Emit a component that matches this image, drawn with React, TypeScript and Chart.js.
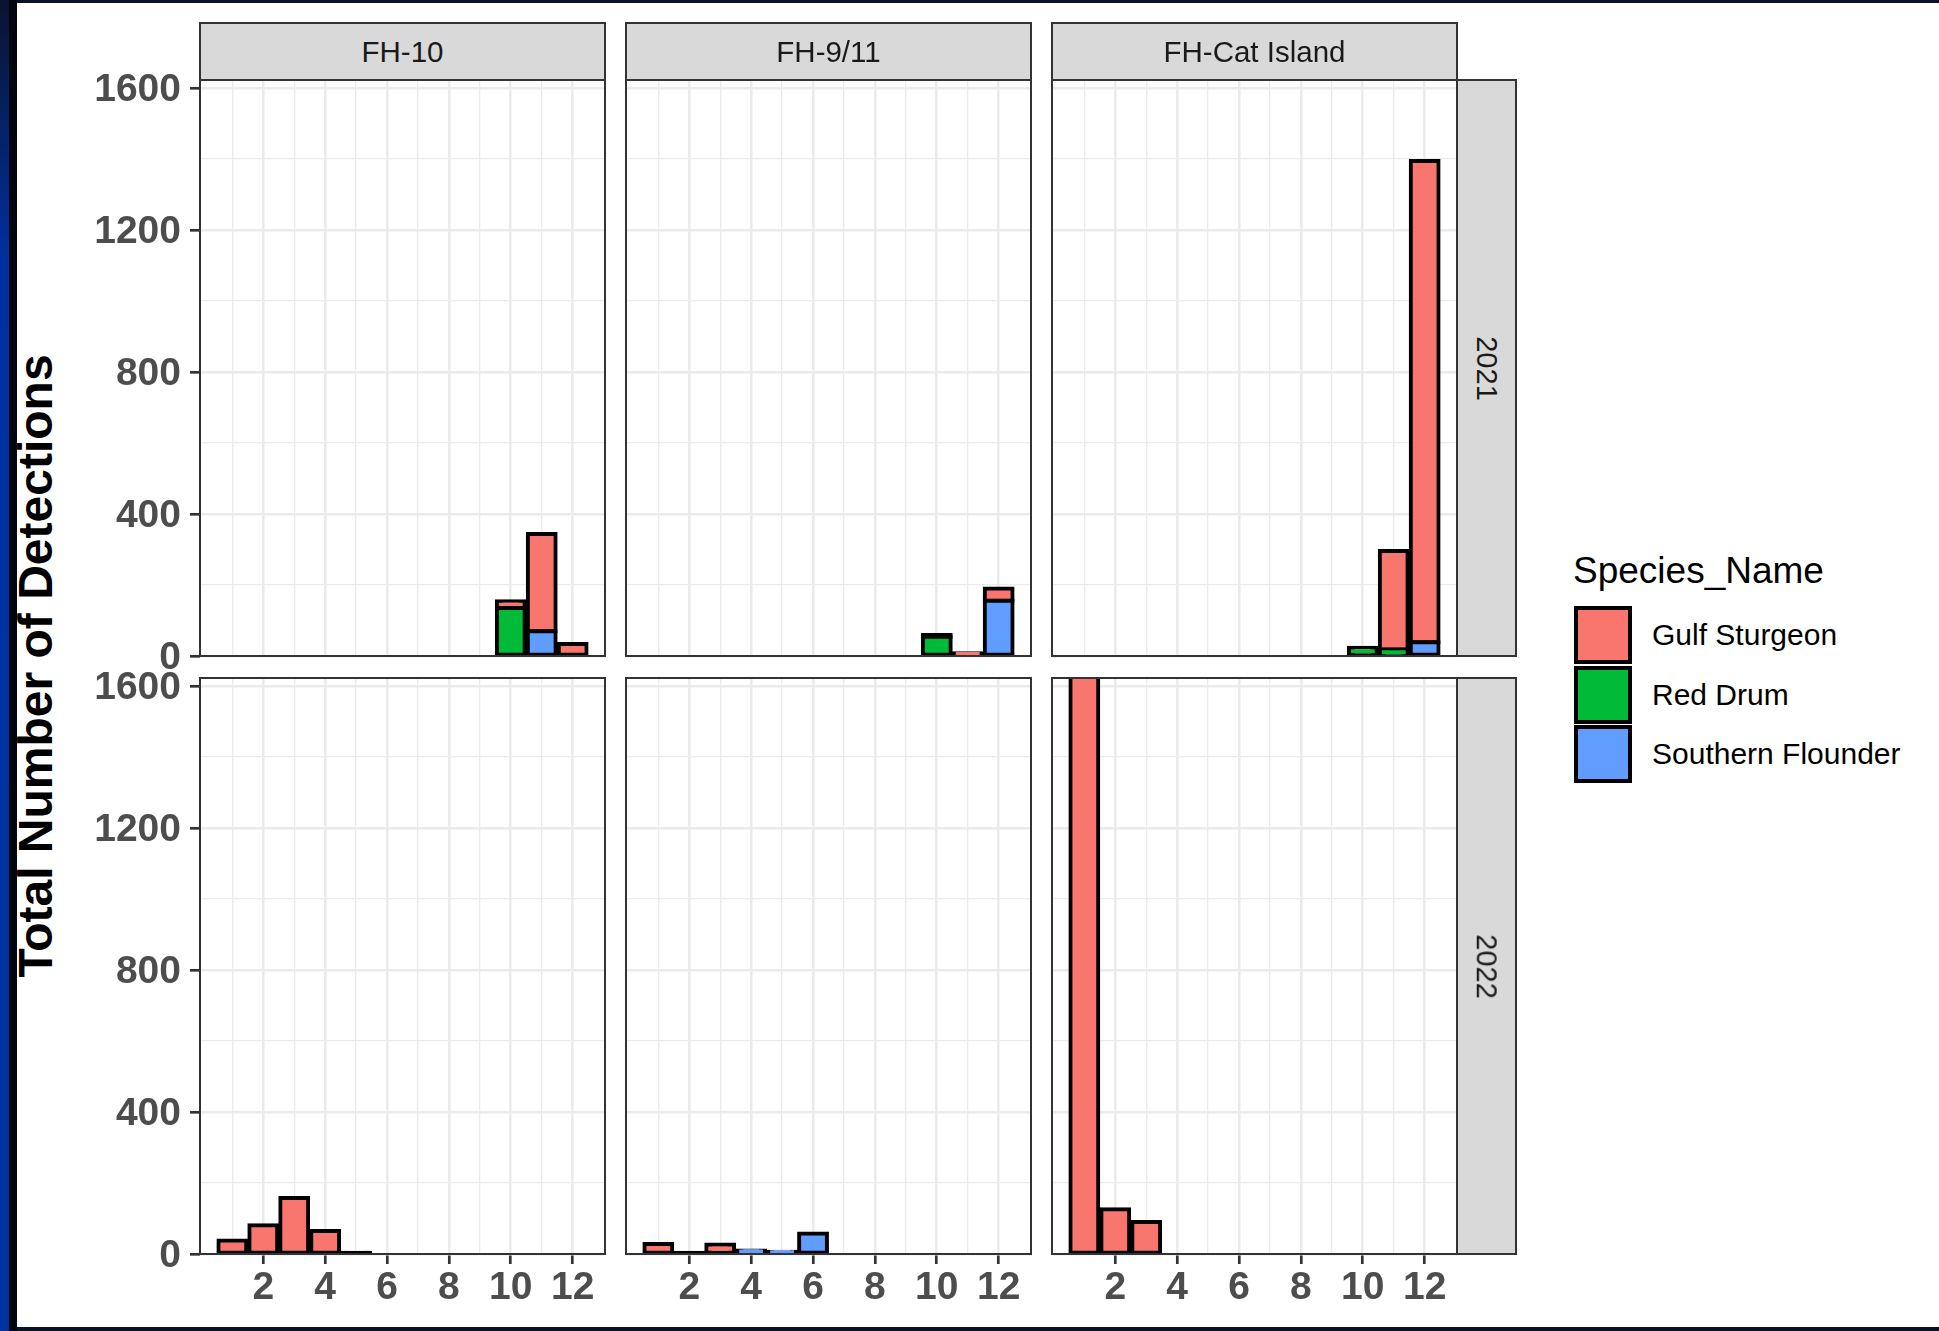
import React, { useEffect, useRef } from "react";
import { Chart, registerables } from "chart.js";

Chart.register(...registerables);

// ---------------- DATA ----------------
const months = [1, 2, 3, 4, 5, 6, 7, 8, 9, 10, 11, 12];
const speciesNames = ["Gulf Sturgeon", "Red Drum", "Southern Flounder"];
const speciesColors = ["#F8766D", "#00BA38", "#619CFF"];
const siteNames = ["FH-10", "FH-9/11", "FH-Cat Island"];
const yearNames = ["2021", "2022"];
const xTickLabels = [2, 4, 6, 8, 10, 12];
const yTickLabels = [0, 400, 800, 1200, 1600];
const yGridValues = [0, 200, 400, 600, 800, 1000, 1200, 1400, 1600];

// 2021
const fh10_2021_gulf = [null, null, null, null, null, null, null, null, null, 19, 274, 34];
const fh10_2021_redDrum = [null, null, null, null, null, null, null, null, null, 135, null, null];
const fh10_2021_flounder = [null, null, null, null, null, null, null, null, null, null, 70, null];

const fh911_2021_gulf = [null, null, null, null, null, null, null, null, null, 5, 8, 34];
const fh911_2021_redDrum = [null, null, null, null, null, null, null, null, null, 54, null, null];
const fh911_2021_flounder = [null, null, null, null, null, null, null, null, null, null, null, 156];

const cat_2021_gulf = [null, null, null, null, null, null, null, null, null, null, 278, 1356];
const cat_2021_redDrum = [null, null, null, null, null, null, null, null, null, 23, 18, null];
const cat_2021_flounder = [null, null, null, null, null, null, null, null, null, null, null, 39];

// 2022
const fh10_2022_gulf = [38, 81, 158, 65, 3, null, null, null, null, null, null, null];
const fh10_2022_redDrum = [null, null, null, null, null, null, null, null, null, null, null, null];
const fh10_2022_flounder = [null, null, null, null, null, null, null, null, null, null, null, null];

const fh911_2022_gulf = [28, 2, 27, null, null, null, null, null, null, null, null, null];
const fh911_2022_redDrum = [null, null, null, null, null, null, null, null, null, null, null, null];
const fh911_2022_flounder = [null, null, null, 10, 6, 58, null, null, null, null, null, null];

const cat_2022_gulf = [2600, 126, 90, null, null, null, null, null, null, null, null, null];
const cat_2022_redDrum = [null, null, null, null, null, null, null, null, null, null, null, null];
const cat_2022_flounder = [null, null, null, null, null, null, null, null, null, null, null, null];

const panels = [
  { col: 0, row: 0, series: [fh10_2021_gulf, fh10_2021_redDrum, fh10_2021_flounder] },
  { col: 1, row: 0, series: [fh911_2021_gulf, fh911_2021_redDrum, fh911_2021_flounder] },
  { col: 2, row: 0, series: [cat_2021_gulf, cat_2021_redDrum, cat_2021_flounder] },
  { col: 0, row: 1, series: [fh10_2022_gulf, fh10_2022_redDrum, fh10_2022_flounder] },
  { col: 1, row: 1, series: [fh911_2022_gulf, fh911_2022_redDrum, fh911_2022_flounder] },
  { col: 2, row: 1, series: [cat_2022_gulf, cat_2022_redDrum, cat_2022_flounder] },
];

// ---------------- LAYOUT / STYLE ----------------
const FONT = "'Liberation Sans', Arial, Helvetica, sans-serif";
const COL_LEFT = [200, 626, 1052];
const PANEL_W = 405;
const ROW_TOP = [80, 678];
const PANEL_H = 576;
const STRIP_TOP = 22;
const RIGHT_STRIP_LEFT = 1456;
const RIGHT_STRIP_W = 61;
const X_MIN = -0.045;
const X_MAX = 13.045;
const Y_MAX = 1623;
const GRID = "#EBEBEB";
const CLEAR = "rgba(0,0,0,0)";
const AXIS_TEXT = "#4D4D4D";
const STROKE_PX = 2; // segments thinner than this look like pure outline (ggplot centred stroke)

Chart.defaults.font.family = FONT;

const panelBorder = {
  id: "panelBorder",
  afterDatasetsDraw(chart: any) {
    const { ctx, chartArea: a } = chart;
    ctx.save();
    ctx.strokeStyle = "#333333";
    ctx.lineWidth = 2;
    ctx.strokeRect(a.left, a.top, a.right - a.left, a.bottom - a.top);
    ctx.restore();
  },
};

function PanelChart({ col, row, series }: { col: number; row: number; series: (number | null)[][] }) {
  const ref = useRef<HTMLCanvasElement>(null);
  const showY = col === 0;
  const showX = row === 1;
  const padL = showY ? 140 : 4;
  const padT = 36;
  const padR = 4;
  const padB = showX ? 78 : 36;
  const w = PANEL_W + padL + padR;
  const h = PANEL_H + padT + padB;

  useEffect(() => {
    // stacking order bottom -> top: Southern Flounder, Red Drum, Gulf Sturgeon
    const order = [2, 1, 0];
    const datasets = order.map((si) => ({
      label: speciesNames[si],
      data: months.map((m, i) => ({ x: m, y: series[si][i] })),
      backgroundColor: (c: any) => {
        const y = c && c.raw ? c.raw.y : null;
        const ys = c && c.chart && c.chart.scales ? c.chart.scales.y : null;
        if (y != null && ys) {
          const px = Math.abs(ys.getPixelForValue(0) - ys.getPixelForValue(y));
          if (px < STROKE_PX) return "#000000";
        }
        return speciesColors[si];
      },
      borderColor: "#000000",
      borderWidth: 4,
      borderSkipped: false as any,
      inflateAmount: 2,
      categoryPercentage: 1,
      barPercentage: 0.9,
      clip: 0,
    }));
    const tv = (ctx: any) => (ctx && ctx.tick ? ctx.tick.value : NaN);
    const chart = new Chart(ref.current as HTMLCanvasElement, {
      type: "bar",
      data: { datasets: datasets as any },
      plugins: [panelBorder],
      options: {
        animation: false,
        responsive: false,
        events: [],
        layout: {
          padding: {
            left: showY ? 10 : padL,
            top: padT,
            right: padR,
            bottom: showX ? 8 : padB,
          },
        },
        plugins: { legend: { display: false }, tooltip: { enabled: false }, title: { display: false } },
        scales: {
          x: {
            type: "linear",
            stacked: true,
            offset: false,
            min: X_MIN,
            max: X_MAX,
            afterBuildTicks: (s: any) => {
              s.ticks = months.map((m) => ({ value: m }));
            },
            afterFit: (s: any) => {
              s.height = showX ? 70 : 0;
            },
            border: { display: false },
            grid: {
              offset: false,
              color: GRID,
              lineWidth: (c: any) => (tv(c) % 2 === 0 ? 2.6 : 1.3),
              drawTicks: showX,
              tickLength: 10,
              tickWidth: 2.7,
              tickColor: (c: any) => (xTickLabels.includes(tv(c)) ? "#333333" : CLEAR),
            },
            ticks: {
              display: showX,
              autoSkip: false,
              maxRotation: 0,
              minRotation: 0,
              padding: 1,
              color: AXIS_TEXT,
              font: { size: 39, weight: "bold" },
              callback: (v: any) => (xTickLabels.includes(v) ? String(v) : ""),
            },
          },
          y: {
            type: "linear",
            stacked: true,
            min: 0,
            max: Y_MAX,
            afterBuildTicks: (s: any) => {
              s.ticks = yGridValues.map((v) => ({ value: v }));
            },
            afterFit: (s: any) => {
              s.width = showY ? 130 : 0;
            },
            border: { display: false },
            grid: {
              color: GRID,
              lineWidth: (c: any) => (yTickLabels.includes(tv(c)) ? 2.6 : 1.3),
              drawTicks: showY,
              tickLength: 10,
              tickWidth: 2.7,
              tickColor: (c: any) => (yTickLabels.includes(tv(c)) ? "#333333" : CLEAR),
            },
            ticks: {
              display: showY,
              autoSkip: false,
              padding: 9,
              labelOffset: 2,
              color: AXIS_TEXT,
              font: { size: 39, weight: "bold" },
              callback: (v: any) => (yTickLabels.includes(v) ? String(v) : ""),
            },
          },
        },
      } as any,
    });
    return () => chart.destroy();
  }, []);

  return (
    <canvas
      ref={ref}
      width={w}
      height={h}
      style={{ position: "absolute", left: COL_LEFT[col] - padL, top: ROW_TOP[row] - padT, width: w, height: h }}
    />
  );
}

export default function App() {
  return (
    <div
      style={{
        position: "fixed",
        left: 0,
        top: 0,
        width: 1939,
        height: 1331,
        overflow: "hidden",
        background: "#FFFFFF",
        fontFamily: FONT,
      }}
    >
      {/* y axis title */}
      <div
        style={{
          position: "absolute",
          left: 36 - 400,
          top: 666 - 30,
          width: 800,
          height: 60,
          lineHeight: "60px",
          textAlign: "center",
          fontSize: 48,
          fontWeight: "bold",
          color: "#000000",
          transform: "rotate(-90deg)",
          whiteSpace: "nowrap",
        }}
      >
        Total Number of Detections
      </div>

      {panels.map((p, i) => (
        <PanelChart key={i} col={p.col} row={p.row} series={p.series} />
      ))}

      {/* top strips */}
      {siteNames.map((s, i) => (
        <div
          key={s}
          style={{
            position: "absolute",
            left: COL_LEFT[i] - 1,
            top: STRIP_TOP,
            width: PANEL_W + 2,
            height: ROW_TOP[0] - STRIP_TOP + 1,
            boxSizing: "border-box",
            background: "#D9D9D9",
            border: "2px solid #333333",
            display: "flex",
            alignItems: "center",
            justifyContent: "center",
            fontSize: 29.5,
            lineHeight: 1,
            color: "#1A1A1A",
          }}
        >
          {s}
        </div>
      ))}

      {/* right strips */}
      {yearNames.map((y, i) => (
        <div
          key={y}
          style={{
            position: "absolute",
            left: RIGHT_STRIP_LEFT,
            top: ROW_TOP[i] - 1,
            width: RIGHT_STRIP_W,
            height: PANEL_H + 2,
            boxSizing: "border-box",
            background: "#D9D9D9",
            border: "2px solid #333333",
            display: "flex",
            alignItems: "center",
            justifyContent: "center",
            fontSize: 29,
            lineHeight: 1,
            color: "#1A1A1A",
          }}
        >
          <span style={{ display: "inline-block", transform: "rotate(90deg)", whiteSpace: "nowrap" }}>{y}</span>
        </div>
      ))}

      {/* legend */}
      <div
        style={{
          position: "absolute",
          left: 1573,
          top: 552,
          fontSize: 37,
          lineHeight: 1,
          color: "#000000",
          whiteSpace: "nowrap",
        }}
      >
        Species_Name
      </div>
      {speciesNames.map((s, i) => (
        <div
          key={s}
          style={{
            position: "absolute",
            left: 1574,
            top: [606, 666, 725][i],
            height: 58,
            display: "flex",
            alignItems: "center",
            whiteSpace: "nowrap",
          }}
        >
          <div
            style={{
              width: 58,
              height: 58,
              boxSizing: "border-box",
              border: "4px solid #000000",
              background: speciesColors[i],
            }}
          />
          <span style={{ marginLeft: 20, fontSize: 30, lineHeight: 1, color: "#000000" }}>{s}</span>
        </div>
      ))}

      {/* frame of the slide */}
      <div style={{ position: "absolute", left: 0, top: 0, width: 1939, height: 3, background: "#0A1226" }} />
      <div style={{ position: "absolute", left: 0, top: 1327, width: 1939, height: 4, background: "#0A1226" }} />
      <div
        style={{
          position: "absolute",
          left: 0,
          top: 0,
          width: 9,
          height: 1331,
          background: "linear-gradient(to bottom, #0A1330 0px, #0030A0 260px, #0033A0 1331px)",
        }}
      />
      <div style={{ position: "absolute", left: 9, top: 0, width: 8, height: 1331, background: "#03060F" }} />
    </div>
  );
}
